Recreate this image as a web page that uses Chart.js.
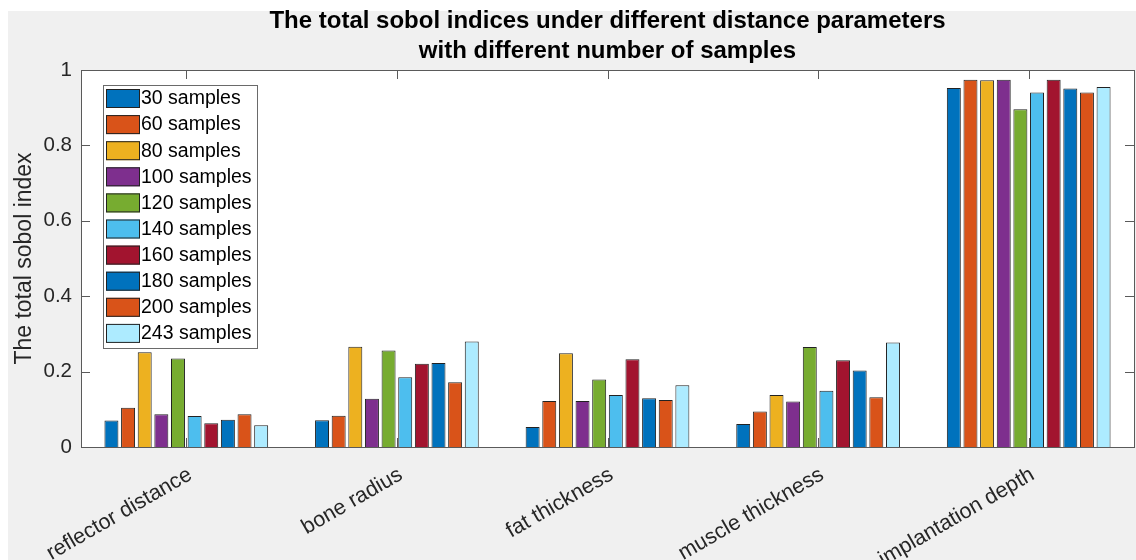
<!DOCTYPE html>
<html>
<head>
<meta charset="utf-8">
<script src="https://cdn.jsdelivr.net/npm/chart.js@4.4.1/dist/chart.umd.min.js"></script>
<style>
  html, body { margin: 0; padding: 0; background: #ffffff; }
  #wrap { width: 1136px; height: 560px; }
</style>
</head>
<body>
<div id="wrap"><canvas id="c" width="1136" height="560"></canvas></div>
<script>
// Parameters on the x axis
const categories = ['reflector distance', 'bone radius', 'fat thickness', 'muscle thickness', 'implantation depth'];

// Total Sobol index per parameter, one array per sample count
const samples30  = [0.070, 0.071, 0.053, 0.061, 0.952];
const samples60  = [0.104, 0.083, 0.122, 0.094, 0.974];
const samples80  = [0.251, 0.266, 0.249, 0.138, 0.973];
const samples100 = [0.087, 0.128, 0.122, 0.121, 0.974];
const samples120 = [0.235, 0.256, 0.179, 0.265, 0.896];
const samples140 = [0.082, 0.185, 0.138, 0.149, 0.940];
const samples160 = [0.063, 0.221, 0.233, 0.230, 0.974];
const samples180 = [0.072, 0.223, 0.129, 0.203, 0.951];
const samples200 = [0.087, 0.172, 0.125, 0.132, 0.940];
const samples243 = [0.058, 0.280, 0.164, 0.277, 0.955];

const seriesLabels = ['30 samples', '60 samples', '80 samples', '100 samples', '120 samples',
                      '140 samples', '160 samples', '180 samples', '200 samples', '243 samples'];
const seriesValues = [samples30, samples60, samples80, samples100, samples120,
                      samples140, samples160, samples180, samples200, samples243];
const seriesColors = ['#0072BD', '#D95319', '#EDB120', '#7E2F8E', '#77AC30',
                      '#4DBEEE', '#A2142F', '#0072BD', '#D95319', '#ADEBFF'];

const yTicks = [0, 0.2, 0.4, 0.6, 0.8, 1];

const FONT = '"Liberation Sans", Arial, Helvetica, sans-serif';
const AXIS_COLOR = '#5a5a5a';
const TEXT_COLOR = '#262626';

// Figure background, white axes background
const backgroundPlugin = {
  id: 'figureBackground',
  beforeDraw(chart) {
    const ctx = chart.ctx;
    const a = chart.chartArea;
    ctx.save();
    ctx.fillStyle = '#F0F0F0';
    ctx.fillRect(8, 11, chart.width - 8, chart.height - 11);
    ctx.fillStyle = '#ffffff';
    ctx.fillRect(a.left, a.top, a.right - a.left, a.bottom - a.top);
    ctx.restore();
  }
};

// Axes box with inward tick marks on all four sides
const boxPlugin = {
  id: 'axesBox',
  beforeDatasetsDraw(chart) {
    const ctx = chart.ctx;
    const a = chart.chartArea;
    const xs = chart.scales.x, ys = chart.scales.y;
    const len = 9;
    ctx.save();
    ctx.strokeStyle = AXIS_COLOR;
    ctx.lineWidth = 1;
    ctx.beginPath();
    for (let i = 0; i < categories.length; i++) {
      const px = Math.round(xs.getPixelForValue(i)) + 0.5;
      ctx.moveTo(px, a.top); ctx.lineTo(px, a.top + len);
      ctx.moveTo(px, a.bottom); ctx.lineTo(px, a.bottom - len);
    }
    yTicks.forEach(v => {
      const py = Math.round(ys.getPixelForValue(v)) + 0.5;
      ctx.moveTo(a.left, py); ctx.lineTo(a.left + len, py);
      ctx.moveTo(a.right, py); ctx.lineTo(a.right - len, py);
    });
    ctx.stroke();
    ctx.restore();
  },
  afterDatasetsDraw(chart) {
    const ctx = chart.ctx;
    const a = chart.chartArea;
    ctx.save();
    ctx.strokeStyle = AXIS_COLOR;
    ctx.lineWidth = 1;
    ctx.strokeRect(Math.round(a.left) + 0.5, Math.round(a.top) + 0.5,
                   Math.round(a.right - a.left), Math.round(a.bottom - a.top));
    ctx.restore();
  }
};

// Legend box in the upper-left corner of the axes
const insideLegendPlugin = {
  id: 'insideLegend',
  afterDraw(chart) {
    const ctx = chart.ctx;
    const a = chart.chartArea;
    const x0 = a.left + 22, y0 = a.top + 15;
    const w = 154, pitch = 26.1;
    const h = chart.data.datasets.length * pitch + 2;
    ctx.save();
    ctx.fillStyle = '#ffffff';
    ctx.fillRect(x0, y0, w, h);
    ctx.strokeStyle = '#6a6a6a';
    ctx.lineWidth = 1;
    ctx.strokeRect(x0 + 0.5, y0 + 0.5, w, h);
    ctx.font = '19.5px ' + FONT;
    ctx.textBaseline = 'middle';
    ctx.textAlign = 'left';
    chart.data.datasets.forEach((ds, i) => {
      const sy = y0 + 4 + i * pitch;
      ctx.fillStyle = ds.backgroundColor;
      ctx.fillRect(x0 + 3, sy, 34, 19);
      ctx.strokeStyle = '#222222';
      ctx.strokeRect(x0 + 3.5, sy + 0.5, 33, 18);
      ctx.fillStyle = '#000000';
      ctx.fillText(ds.label, x0 + 38, sy + 10);
    });
    ctx.restore();
  }
};

const datasets = seriesValues.map((vals, i) => ({
  label: seriesLabels[i],
  data: vals,
  backgroundColor: seriesColors[i],
  borderColor: '#222222',
  borderWidth: 1,
  categoryPercentage: 0.79,
  barPercentage: 0.84
}));

new Chart(document.getElementById('c'), {
  type: 'bar',
  data: { labels: categories, datasets },
  options: {
    responsive: false,
    animation: false,
    layout: { padding: { left: 0, right: 2, top: 6, bottom: 0 } },
    plugins: {
      legend: { display: false },
      tooltip: { enabled: false },
      title: {
        display: true,
        fullSize: false,
        text: ['The total sobol indices under different distance parameters',
               'with different number of samples'],
        color: '#000000',
        font: { family: FONT, size: 24, weight: 'bold', lineHeight: 1.25 },
        padding: { top: 0, bottom: 4 }
      }
    },
    scales: {
      x: {
        grid: { display: false, drawTicks: false },
        border: { display: false },
        ticks: {
          color: TEXT_COLOR,
          font: { family: FONT, size: 21.5 },
          minRotation: 30,
          maxRotation: 30,
          padding: 15,
          labelOffset: 4
        },
        afterFit(scale) { scale.height = 113; }
      },
      y: {
        min: 0,
        max: 1,
        grid: { display: false, drawTicks: false },
        border: { display: false },
        afterBuildTicks(scale) { scale.ticks = yTicks.map(v => ({ value: v })); },
        ticks: {
          color: TEXT_COLOR,
          font: { family: FONT, size: 20.5 },
          padding: 9,
          callback: v => String(v)
        },
        title: {
          display: true,
          text: 'The total sobol index',
          color: TEXT_COLOR,
          font: { family: FONT, size: 23 },
          padding: { top: 11, bottom: 0 }
        },
        afterFit(scale) { scale.width = 81; }
      }
    }
  },
  plugins: [backgroundPlugin, boxPlugin, insideLegendPlugin]
});
</script>
</body>
</html>
